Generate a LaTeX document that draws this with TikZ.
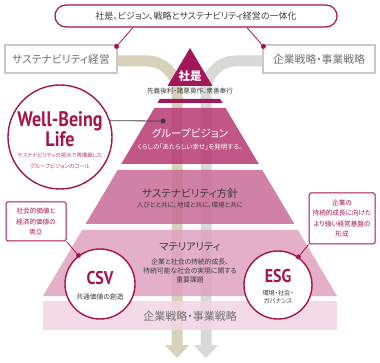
\documentclass[tikz,border=0pt]{standalone}
\usepackage{fontspec}
\setmainfont[RawFeature=+palt]{Noto Sans CJK JP}
\newfontfamily\headfont[FakeStretch=0.86]{PT Sans}
\usetikzlibrary{arrows.meta,positioning,calc}
\definecolor{crimson}{HTML}{A5144E}
\definecolor{creedcol}{HTML}{A3185A}
\definecolor{visioncol}{HTML}{B83F76}
\definecolor{policycol}{HTML}{CC6F9A}
\definecolor{materialcol}{HTML}{DFA4C1}
\definecolor{strategycol}{HTML}{F1D5E2}
\definecolor{beige}{HTML}{D8D2BA}
\definecolor{stone}{HTML}{D9D9D7}
\definecolor{ink}{HTML}{3C3C3C}
\definecolor{greytext}{HTML}{707070}
\definecolor{boxline}{HTML}{C9C9C9}
\tikzset{
  flowband/.style={line width=11pt, -{Triangle[width=24pt,length=13pt]}},
  pill/.style={draw=crimson, line width=1.2pt, fill=white, rounded corners=11pt, minimum width=282pt, minimum height=22pt, inner sep=0pt, text=ink, font=\fontsize{9}{10}\selectfont},
  sidebox/.style={draw=boxline, line width=1.2pt, fill=white, minimum width=112pt, minimum height=28pt, inner sep=0pt, text=greytext, font=\fontsize{10.8}{12}\selectfont},
  notebox/.style={draw=crimson, line width=1pt, fill=white, rounded corners=1.5pt, align=center, inner sep=0pt, text=crimson, font=\fontsize{6.6}{10.3}\selectfont},
  ring/.style={circle, draw=crimson, line width=1.4pt, fill=white, inner sep=0pt},
  pin/.style={circle, fill=crimson, inner sep=0pt, minimum size=5pt},
  headword/.style={text=crimson, inner sep=0pt, anchor=base},
}
\begin{document}
\begin{tikzpicture}[
  x=1pt, y=-1pt,
  tier/.style={fill opacity=0.88},
  tiertitle/.style={font=\fontsize{10.6}{12}\selectfont, text=ink, inner sep=0pt},
  tiersub/.style={font=\fontsize{6.5}{9.5}\selectfont, text=ink, align=center, inner sep=0pt},
]
  \useasboundingbox (0,0) rectangle (380,363);

  % flow bands down through the pyramid
  \draw[flowband, color=beige] (110,61) -- (147,61) to[out=0, in=90] (177,91) -- (177,358);
  \draw[flowband, color=stone] (270,61) -- (236,61) to[out=180, in=90] (206,91) -- (206,358);

  % pyramid tiers
  \fill[creedcol] (190,48) -- (212.5,86) -- (167.5,86) -- cycle;
  \fill[creedcol] (159.8,99) -- (220.2,99) -- (222.6,103) -- (157.4,103) -- cycle;
  \fill[visioncol, tier] (154.4,108) -- (225.6,108) -- (258.8,164) -- (121.2,164) -- cycle;
  \fill[policycol, tier] (117.7,170) -- (262.3,170) -- (294.4,224) -- (85.6,224) -- cycle;
  \fill[materialcol, tier] (82.1,230) -- (297.9,230) -- (337,296) -- (43,296) -- cycle;
  \fill[strategycol, tier] (43,301) rectangle (337,330);

  \node[text=white, font=\fontsize{11.5}{12}\selectfont\bfseries, inner sep=0pt] (creed) at (190,76) {社是};
  \node[font=\fontsize{6.6}{8}\selectfont, text=ink, inner sep=0pt] (creedsub) at (190,91) {先義後利・諸悪莫作、衆善奉行};
  \node[tiertitle, text=white] (vision) at (190,133) {グループビジョン};
  \node[tiersub, text=white] (visionsub) at (190,147) {くらしの「あたらしい幸せ」を発明する。};
  \node[tiertitle] (policy) at (190,193) {サステナビリティ方針};
  \node[tiersub] (policysub) at (190,205) {人びとと共に、地域と共に、環境と共に};
  \node[tiertitle, font=\fontsize{10.2}{12}\selectfont] (materiality) at (190,247) {マテリアリティ};
  \node[tiersub, font=\fontsize{6.8}{9.2}\selectfont] (materialitysub) at (190,271) {企業と社会の持続的成長、\\持続可能な社会の実現に関する\\重要課題};
  \node[tiertitle, text=greytext, font=\fontsize{11}{12}\selectfont] (strategy) at (190,316) {企業戦略・事業戦略};

  % top statement and side boxes
  \node[pill] (unity) at (196,16) {社是、ビジョン、戦略とサステナビリティ経営の一体化};
  \node[sidebox] (sustmgmt) at (61,59) {サステナビリティ経営};
  \node[sidebox] (corpstrat) at (319,59) {企業戦略・事業戦略};
  \node[pin] (pinleft) at ($(sustmgmt.north east)+(-1,2)$) {};
  \node[pin] (pinright) at ($(corpstrat.north west)+(1,2)$) {};
  \draw[crimson, line width=0.8pt] ($(unity.south west)!0.277!(unity.south east)$) -- (pinleft);
  \draw[crimson, line width=0.8pt] ($(unity.south west)!0.68!(unity.south east)$) -- (pinright);

  % Well-Being Life
  \node[ring, minimum size=104pt] (wb) at (60,137) {};
  \node[headword, font=\headfont\bfseries\fontsize{21}{24}\selectfont] (wbtitle) at (60,126.5) {Well-Being};
  \node[headword, font=\headfont\bfseries\fontsize{21}{24}\selectfont] (wblife) at (60,146.5) {Life};
  \node[align=center, text=visioncol, font=\fontsize{5.4}{11}\selectfont, inner sep=0pt] (wbnote) at (60,161) {サステナビリティの視点で再構築した\\グループビジョンのゴール};
  \node[circle, fill=ink, inner sep=0pt, minimum size=5pt] (visionpin) at (163,121) {};
  \draw[ink, line width=0.8pt] (wb.18) -- (visionpin);

  % CSV
  \node[ring, minimum size=70pt] (csv) at (100,284) {};
  \node[headword, font=\headfont\bfseries\fontsize{18.5}{20}\selectfont] (csvtitle) at (100,285) {CSV};
  \node[text=ink, font=\fontsize{6.8}{8}\selectfont, inner sep=0pt] (csvsub) at (100,297) {共通価値の創造};
  \node[notebox, minimum width=60pt, minimum height=39pt] (csvnote) at (36,221.5) {社会的価値と\\経済的価値の\\両立};
  \node[pin] (csvpin) at (csv.127) {};
  \draw[crimson, line width=0.8pt] (csvnote.south east) -- (csvpin);

  % ESG
  \node[ring, minimum size=68pt] (esg) at (278,285) {};
  \node[headword, font=\headfont\bfseries\fontsize{18.5}{20}\selectfont] (esgtitle) at (278,283) {ESG};
  \node[align=center, text=ink, font=\fontsize{6.2}{8.3}\selectfont, inner sep=0pt] (esgsub) at (278,297) {環境・社会・\\ガバナンス};
  \node[notebox, minimum width=66pt, minimum height=51pt] (esgnote) at (342,218.5) {企業の\\持続的成長に向けた\\より強い経営基盤の\\形成};
  \node[pin] (esgpin) at (esg.54) {};
  \draw[crimson, line width=0.8pt] (esgnote.south west) -- (esgpin);
\end{tikzpicture}
\end{document}
